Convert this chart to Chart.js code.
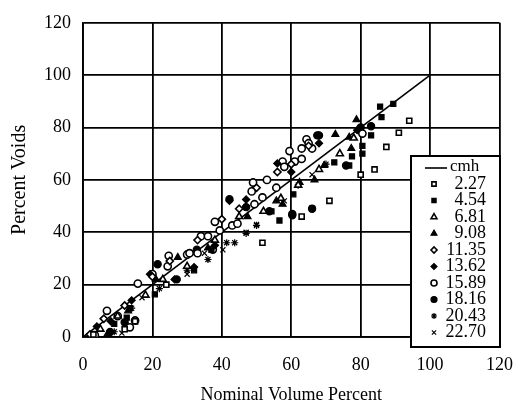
<!DOCTYPE html>
<html>
<head>
<meta charset="utf-8">
<script src="https://cdn.jsdelivr.net/npm/chart.js@4/dist/chart.umd.min.js"></script>
<style>
  html, body { margin: 0; padding: 0; background: #fff; }
  #wrap { width: 530px; height: 412px; }
</style>
</head>
<body>
<div id="wrap"><canvas id="voids" width="530" height="412"></canvas></div>
<script>
// Percent voids vs nominal volume percent, one series per flow rate (cmh)

const flowRates = ['2.27', '4.54', '6.81', '9.08', '11.35', '13.62', '15.89', '18.16', '20.43', '22.70'];
const markerStyles = ['rect', 'rect', 'triangle', 'triangle', 'rectRot', 'rectRot', 'circle', 'circle', 'star', 'crossRot'];
const markerFilled = [false, true, false, true, false, true, false, true, true, true];

// nominal volume percent (x) / percent voids (y) per flow rate
const vol_227 = [3, 12, 15, 24, 51.7, 63, 71, 80, 84, 87.4, 91, 94];
const void_227 = [1, 3, 6, 20, 36, 46, 52, 62, 64, 72.6, 78, 82.6];

const vol_454 = [9, 12.6, 13.5, 20.7, 32, 37, 54.3, 56.6, 60.6, 66, 72.4, 76.7, 77.5, 80.5, 80.5, 83, 86, 85.6, 89.4];
const void_454 = [5, 7.4, 11, 16.3, 25.5, 33.3, 48, 44.5, 54.5, 49, 66.7, 65.5, 69, 70, 73, 77, 84, 88, 89];

const vol_681 = [5, 10, 18, 23, 30, 38, 45, 52, 57, 62, 68, 74, 78];
const void_681 = [3, 8, 16, 22, 27, 37, 46, 48, 53, 58, 64, 70, 76];

const vol_908 = [7, 13, 21, 27.3, 36, 47.4, 55.7, 57.5, 62.4, 66.7, 69.5, 72.7, 76.7, 77.3, 78.8];
const void_908 = [1, 10, 22, 30.4, 34, 46, 52, 50.7, 59, 60, 65.5, 77.4, 76.3, 72, 83];

const vol_1135 = [2, 6, 12, 20, 25, 33, 40, 45, 50, 56, 60, 65];
const void_1135 = [1, 7, 12, 23, 29, 37, 45, 49, 57, 63, 66, 73];

const vol_1362 = [4, 8, 14, 19.3, 26.4, 32, 38, 42.2, 47, 56, 60, 68, 79];
const void_1362 = [4, 6, 14, 24, 22, 26.7, 35, 52, 52.5, 66.3, 63, 74, 79];

const vol_1589 = [3.4, 6.9, 10, 13.5, 15, 15.8, 20, 24.4, 24.7, 30, 30.7, 33, 34, 36, 37.4, 38, 39.4, 43, 44.5,
  48.6, 49, 49.4, 51.7, 53, 55.7, 57.5, 58, 59.5, 61, 63, 63, 64.4, 66, 65, 80.5];
const void_1589 = [0.7, 10, 8, 3.7, 6.3, 20.4, 24, 27, 31, 31.5, 32, 32, 38.5, 38.5, 33.4, 44, 40.7, 42.6, 43.3,
  55.6, 59, 50.7, 53.3, 60, 57, 67, 65, 71, 67, 68, 72, 75.5, 72, 74, 77.7];

const vol_1816 = [7.8, 12, 21.5, 27, 32.8, 42.2, 47, 53.7, 60.3, 60.3, 66, 67.5, 68, 75.8, 80, 83];
const void_1816 = [1.9, 5.6, 27.8, 22, 33.3, 52.6, 49.6, 48, 47, 46.5, 49, 77, 77, 65.5, 80, 80.5];

const vol_2043 = [9, 14, 22, 30, 36, 41.4, 43.7, 47, 50, 62, 70];
const void_2043 = [2, 11, 18.5, 25.5, 29.6, 36, 36, 39.6, 42.6, 58, 66];

const vol_2270 = [11.2, 17, 24, 30, 35, 40.3, 47, 50, 58, 66];
const void_2270 = [1.5, 15, 20, 24, 32, 33.3, 40, 43, 52, 62];

const seriesX = [vol_227, vol_454, vol_681, vol_908, vol_1135, vol_1362, vol_1589, vol_1816, vol_2043, vol_2270];
const seriesY = [void_227, void_454, void_681, void_908, void_1135, void_1362, void_1589, void_1816, void_2043, void_2270];

// 1:1 reference line
const lineX = [0, 100];
const lineY = [0, 100];

const axisTicks = [0, 20, 40, 60, 80, 100, 120];

const serif = "'Liberation Serif', 'Times New Roman', serif";

function toPoints(xs, ys) {
    return xs.map((x, i) => ({ x: x, y: ys[i] }));
}

const datasets = flowRates.map((rate, i) => ({
    label: rate,
    data: toPoints(seriesX[i], seriesY[i]),
    pointStyle: markerStyles[i],
    pointRadius: markerStyles[i] === 'triangle' ? 4 : 3.6,
    pointBorderWidth: markerFilled[i] ? 1.2 : 1.6,
    pointBorderColor: '#000',
    pointBackgroundColor: markerFilled[i] ? '#000' : '#fff',
    showLine: false,
}));

datasets.push({
    label: 'cmh',
    data: toPoints(lineX, lineY),
    showLine: true,
    borderColor: '#000',
    borderWidth: 1.6,
    pointRadius: 0,
});

// legend box drawn inside the plot, lower right
const boxLegend = {
    id: 'boxLegend',
    afterDraw(chart) {
        const ctx = chart.ctx;
        const left = 411, top = 156, right = 500, bottom = 347;
        ctx.save();
        ctx.fillStyle = '#fff';
        ctx.fillRect(left, top, right - left, bottom - top);
        ctx.strokeStyle = '#000';
        ctx.lineWidth = 2;
        ctx.strokeRect(left, top, right - left, bottom - top);

        // header: line sample + unit
        ctx.lineWidth = 1.6;
        ctx.beginPath();
        ctx.moveTo(425, 168);
        ctx.lineTo(447, 168);
        ctx.stroke();
        ctx.fillStyle = '#000';
        ctx.font = '17px ' + serif;
        ctx.textBaseline = 'middle';
        ctx.textAlign = 'left';
        ctx.fillText('cmh', 450, 167);

        const rowStep = 16.5;
        flowRates.forEach((rate, i) => {
            const y = 184 + i * rowStep;
            const ds = chart.data.datasets[i];
            ctx.fillStyle = ds.pointBackgroundColor;
            ctx.strokeStyle = '#000';
            ctx.lineWidth = ds.pointBorderWidth;
            Chart.helpers.drawPoint(ctx, {
                pointStyle: ds.pointStyle,
                radius: ds.pointRadius - 0.6,
                borderWidth: ds.pointBorderWidth,
                rotation: 0,
            }, 434, y);
            ctx.fillStyle = '#000';
            ctx.font = '18px ' + serif;
            ctx.textAlign = 'right';
            ctx.fillText(rate, 486, y);
        });
        ctx.restore();
    }
};

const ctx = document.getElementById('voids').getContext('2d');
const voidsChart = new Chart(ctx, {
    type: 'scatter',
    data: { datasets: datasets },
    options: {
        responsive: false,
        animation: false,
        layout: { padding: { top: 13, right: 30, left: 0, bottom: 0 } },
        plugins: {
            legend: { display: false },
            tooltip: { enabled: false },
        },
        scales: {
            x: {
                type: 'linear',
                min: 0,
                max: 120,
                afterBuildTicks: (s) => { s.ticks = axisTicks.map(v => ({ value: v })); },
                afterFit: (s) => { s.height = 75; },
                grid: { color: '#000', lineWidth: 1.8, drawTicks: false },
                border: { color: '#000', width: 1.8 },
                ticks: { color: '#000', padding: 17, font: { family: serif, size: 18 } },
                title: {
                    display: true,
                    text: 'Nominal Volume Percent',
                    color: '#000',
                    font: { family: serif, size: 18 },
                    padding: { top: 0, bottom: 6 },
                },
            },
            y: {
                type: 'linear',
                min: 0,
                max: 120,
                afterBuildTicks: (s) => { s.ticks = axisTicks.map(v => ({ value: v })); },
                afterFit: (s) => { s.width = 83; },
                grid: { color: '#000', lineWidth: 1.8, drawTicks: false },
                border: { color: '#000', width: 1.8 },
                ticks: { color: '#000', padding: 12, font: { family: serif, size: 18 } },
                title: {
                    display: true,
                    text: 'Percent Voids',
                    color: '#000',
                    font: { family: serif, size: 20 },
                    padding: { top: 8, bottom: 0 },
                },
            },
        },
    },
    plugins: [boxLegend],
});
</script>
</body>
</html>
